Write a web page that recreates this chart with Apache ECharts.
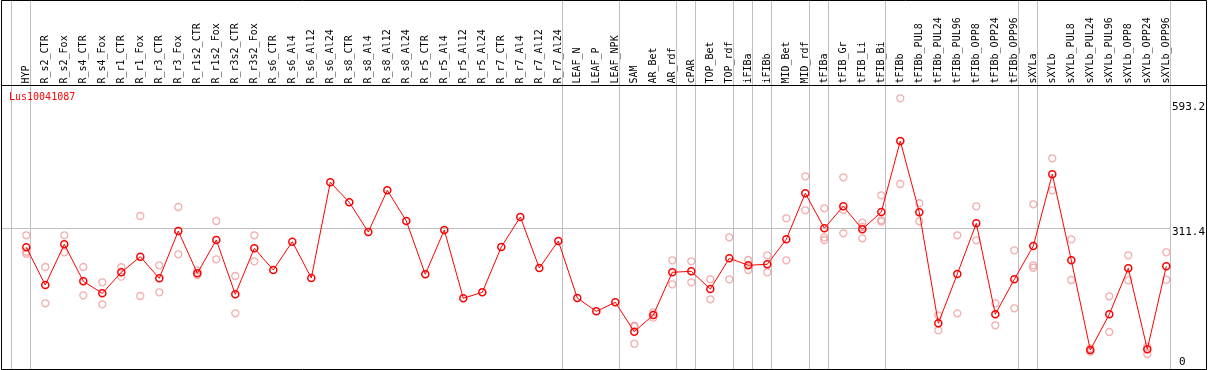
<!DOCTYPE html>
<html>
<head>
<meta charset="utf-8">
<script src="https://cdn.jsdelivr.net/npm/echarts@6.0.0/dist/echarts.min.js"></script>
<style>
html,body{margin:0;padding:0;background:#fff;}
#chart{width:1209px;height:370px;}
</style>
</head>
<body>
<div id="chart"></div>
<script>
const chartTitle = 'Lus10041087';
const categories = ['HYP','R_s2_CTR','R_s2_Fox','R_s4_CTR','R_s4_Fox','R_r1_CTR','R_r1_Fox','R_r3_CTR','R_r3_Fox','R_r1s2_CTR','R_r1s2_Fox','R_r3s2_CTR','R_r3s2_Fox','R_s6_CTR','R_s6_Al4','R_s6_Al12','R_s6_Al24','R_s8_CTR','R_s8_Al4','R_s8_Al12','R_s8_Al24','R_r5_CTR','R_r5_Al4','R_r5_Al12','R_r5_Al24','R_r7_CTR','R_r7_Al4','R_r7_Al12','R_r7_Al24','LEAF_N','LEAF_P','LEAF_NPK','SAM','AR_Bet','AR_rdf','cPAR','TOP_Bet','TOP_rdf','iFIBa','iFIBb','MID_Bet','MID_rdf','tFIBa','tFIB_Gr','tFIB_Li','tFIB_Bi','tFIBb','tFIBb_PUL8','tFIBb_PUL24','tFIBb_PUL96','tFIBb_OPP8','tFIBb_OPP24','tFIBb_OPP96','sXYLa','sXYLb','sXYLb_PUL8','sXYLb_PUL24','sXYLb_PUL96','sXYLb_OPP8','sXYLb_OPP24','sXYLb_OPP96'];
const meanValues = [268.5,183.5,275.3,191.9,164.8,212.2,247.3,198.6,305.3,209.9,285.0,162.6,266.3,217.4,281.2,199.3,415.1,370.0,303.0,397.1,327.9,207.7,307.6,153.6,167.1,269.2,336.9,221.9,282.8,154.2,124.2,144.5,78.2,115.9,212.2,214.4,174.5,243.7,228.0,230.2,286.6,390.3,311.4,361.0,309.1,348.1,508.2,347.5,97.2,208.3,322.7,117.5,196.4,271.5,433.2,239.2,37.0,117.5,221.2,38.6,225.7];
const replicateValues = [
  [295.6,258.6,254.1],[224.1,142.3],[295.6,257.3],[224.1,160.3],[189.6,140.0],[223.5,202.3],[339.1,158.7],[228.0,167.1],[359.4,252.8],[215.8,206.1],
  [327.9,241.5],[203.8,119.7],[295.6,237.0],
  [],[],[],[],[],[],[],[],[],[],[],[],[],[],[],[],[],[],[],
  [91.8,90.0,51.2],[122.0,109.8],[239.2,185.1],[237.0,189.6],[196.4,151.3],[291.1,196.4],[239.9,217.4],[250.5,212.2],
  [333.9,239.2],[428.6,352.0],[356.5,291.1,285.0],[426.4,352.7,300.1],[324.0,314.3,288.8],[385.8,329.4,326.3],[604.5,411.3],[367.8,327.2],[115.2,81.4],[295.6,119.7],
  [361.0,284.3],[142.3,92.7],[261.8,131.0],[365.5,228.0,222.5],[469.2,397.1],[286.6,194.8],[40.8,33.1],[158.1,77.6],[250.5,194.1],[44.4,28.0],[257.3,195.5]
];
const yTicks = [0, 311.4, 593.2];
const groupEnds = [-1, 0, 28, 31, 34, 35, 37, 38, 39, 41, 42, 45, 52, 53, 60];

const FONT = 'DejaVu Sans Mono';
const GRAY = '#c0c0c0';

const repData = [];
replicateValues.forEach(function (arr, i) { arr.forEach(function (v) { repData.push([i, v]); }); });

const chart = echarts.init(document.getElementById('chart'), null, {renderer: 'canvas'});
chart.setOption({
  animation: false,
  backgroundColor: '#fff',
  title: {
    text: chartTitle, left: 9, top: 92, padding: 0,
    textStyle: {color: '#ff0000', fontSize: 10, fontFamily: FONT, fontWeight: 'normal', lineHeight: 10}
  },
  grid: {left: 26.3, right: 42.7, top: 103.3, bottom: 3.6, outerBoundsMode: 'none', containLabel: false},
  xAxis: {
    type: 'category', data: categories, boundaryGap: false, position: 'top', offset: 17.8,
    axisLine: {show: false}, axisTick: {show: false}, splitLine: {show: false},
    axisLabel: {rotate: 90, margin: 2, interval: 0, color: '#000', fontSize: 10, fontFamily: FONT}
  },
  yAxis: {
    type: 'value', min: 0, max: 593.2, position: 'right',
    axisLine: {show: false}, axisTick: {show: false}, splitLine: {show: false},
    axisLabel: {
      customValues: yTicks, margin: 5.7, color: '#000', fontSize: 11, fontFamily: FONT,
      formatter: function (v) { return v === 0 ? '{z|0}' : '{a|' + v + '}'; },
      rich: {
        a: {fontSize: 11, fontFamily: FONT, color: '#000', lineHeight: 11, padding: [7, 0, 0, 0]},
        z: {fontSize: 11, fontFamily: FONT, color: '#000', lineHeight: 11, padding: [0, 0, 9, 7]}
      }
    }
  },
  series: [
    {
      type: 'custom', z: 1, silent: true,
      data: groupEnds.map(function (b) { return [0, 0, b]; }),
      encode: {x: 0, y: 1},
      renderItem: function (params, api) {
        const b = api.value(2);
        const x0 = api.coord([0, 0])[0];
        const x1 = api.coord([1, 0])[0];
        const x = Math.floor(x0 + (x1 - x0) * b + 4.4) + 0.5;
        return {type: 'line', shape: {x1: x, y1: 0, x2: x, y2: api.getHeight()}, style: {stroke: GRAY, lineWidth: 1}};
      }
    },
    {
      type: 'custom', z: 1, silent: true,
      data: [[0, yTicks[1]]],
      encode: {x: 0, y: 1},
      renderItem: function (params, api) {
        const y = Math.floor(api.coord([0, api.value(1)])[1]) + 0.5;
        return {type: 'line', shape: {x1: 1, y1: y, x2: 1171, y2: y}, style: {stroke: GRAY, lineWidth: 1}};
      }
    },
    {
      type: 'scatter', z: 2, clip: false, data: repData,
      symbol: 'circle', symbolSize: 7,
      itemStyle: {color: 'rgba(0,0,0,0)', borderColor: '#ef9a9a', borderWidth: 1.3}
    },
    {
      type: 'line', z: 3, clip: false, data: meanValues,
      symbol: 'circle', symbolSize: 7, showAllSymbol: true,
      itemStyle: {color: 'rgba(0,0,0,0)', borderColor: '#ff0000', borderWidth: 1.5},
      lineStyle: {color: '#ff0000', width: 1}
    }
  ],
  graphic: [
    {type: 'rect', z: 100, silent: true, shape: {x: 1.5, y: 0.5, width: 1205, height: 369}, style: {fill: 'none', stroke: '#000', lineWidth: 1}},
    {type: 'line', z: 100, silent: true, shape: {x1: 1, y1: 85.5, x2: 1207, y2: 85.5}, style: {stroke: '#000', lineWidth: 1}}
  ]
});
</script>
</body>
</html>
